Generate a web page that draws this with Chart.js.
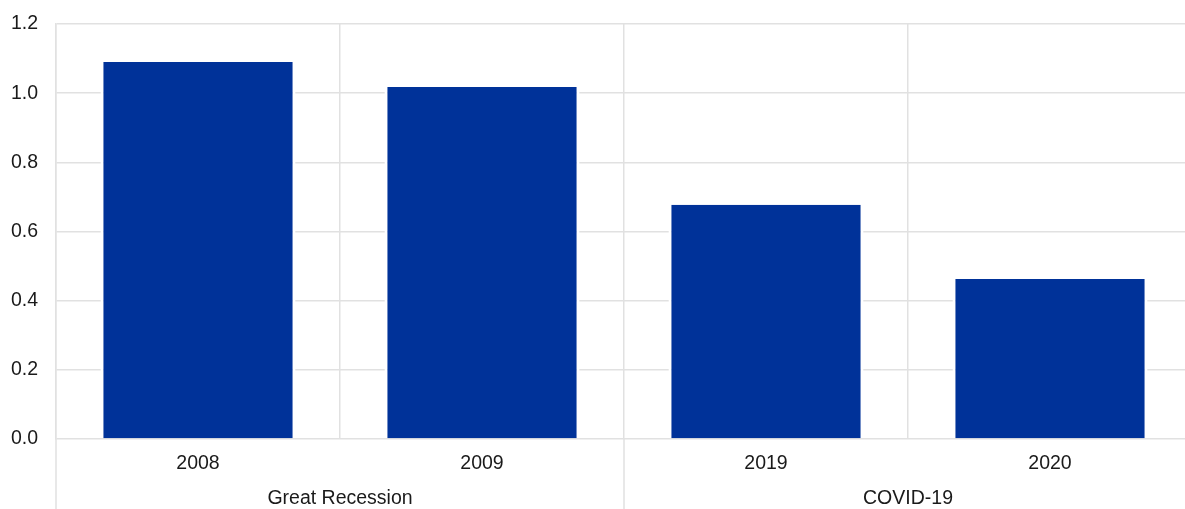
<!DOCTYPE html>
<html>
<head>
<meta charset="utf-8">
<script src="https://cdn.jsdelivr.net/npm/chart.js@4"></script>
<style>
  html, body { margin: 0; padding: 0; background: #fff; overflow: hidden; }
  #wrap { width: 1192px; height: 509px; position: relative; }
</style>
</head>
<body>
<div id="wrap"><canvas id="chart"></canvas></div>
<script>
const categories = ['2008', '2009', '2019', '2020'];
const values = [1.09, 1.018, 0.677, 0.463];
const groupLabels = ['Great Recession', 'COVID-19'];
const groupSizes = [2, 2];

const gridColor = '#e1e1e1';
const textColor = '#1a1a1a';
const fontFamily = '"Liberation Sans", Arial, sans-serif';

// group separators below the axis + group names
const groupAxis = {
    id: 'groupAxis',
    afterDraw(chart) {
        const ctx = chart.ctx;
        const x = chart.scales.x;
        const bottom = chart.chartArea.bottom;
        const half = (x.getPixelForValue(1) - x.getPixelForValue(0)) / 2;
        ctx.save();
        ctx.strokeStyle = gridColor;
        ctx.lineWidth = 1.5;
        ctx.fillStyle = textColor;
        ctx.font = '19.5px ' + fontFamily;
        ctx.textAlign = 'center';
        ctx.textBaseline = 'middle';
        let start = 0;
        groupLabels.forEach((label, i) => {
            const end = start + groupSizes[i] - 1;
            const left = x.getPixelForValue(start) - half;
            ctx.beginPath();
            ctx.moveTo(left, bottom);
            ctx.lineTo(left, chart.height);
            ctx.stroke();
            const mid = (x.getPixelForValue(start) + x.getPixelForValue(end)) / 2;
            ctx.fillText(label, mid, bottom + 60);
            start = end + 1;
        });
        ctx.restore();
    }
};

new Chart(document.getElementById('chart'), {
    type: 'bar',
    data: {
        labels: categories,
        datasets: [{
            data: values,
            backgroundColor: '#003299',
            borderColor: '#ffffff',
            borderWidth: { left: 3, right: 3, top: 0, bottom: 0 },
            borderSkipped: false,
            categoryPercentage: 1,
            barPercentage: 0.687
        }]
    },
    options: {
        responsive: true,
        maintainAspectRatio: false,
        animation: false,
        layout: { padding: { top: 24, right: 0, bottom: 0, left: 0 } },
        plugins: {
            legend: { display: false },
            tooltip: { enabled: false }
        },
        scales: {
            x: {
                grid: { color: gridColor, lineWidth: 1.5, drawTicks: false, offset: true },
                border: { display: false },
                ticks: { color: textColor, font: { size: 19.5, family: fontFamily }, padding: 13, maxRotation: 0 },
                afterFit(scale) { scale.height = 70; }
            },
            y: {
                min: 0,
                max: 1.2,
                grid: { color: gridColor, lineWidth: 1.5, drawTicks: false },
                border: { display: true, color: gridColor, width: 1.5 },
                ticks: {
                    stepSize: 0.2,
                    color: textColor,
                    font: { size: 19.5, family: fontFamily },
                    padding: 18,
                    callback: v => v.toFixed(1)
                },
                afterFit(scale) {
                    scale.width = 56;
                    scale.paddingTop = 0;
                    scale.paddingBottom = 0;
                }
            }
        }
    },
    plugins: [groupAxis]
});
</script>
</body>
</html>
